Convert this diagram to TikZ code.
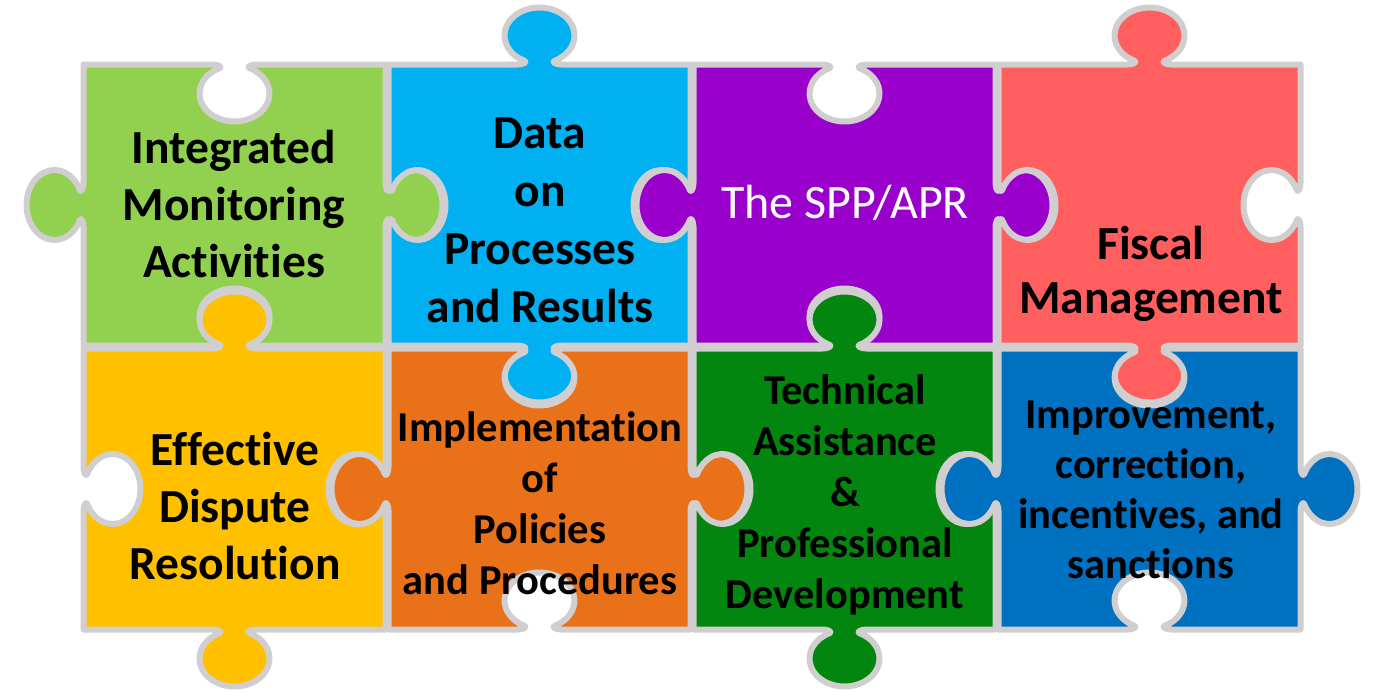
\documentclass[tikz,border=0pt]{standalone}
\usepackage{fontspec}
\setmainfont{Carlito}[Ligatures=CommonOff]

\definecolor{pzgreen}{HTML}{92D050}
\definecolor{pzblue}{HTML}{00B0F0}
\definecolor{pzpurple}{HTML}{9900CC}
\definecolor{pzred}{HTML}{FF5F5F}
\definecolor{pzyellow}{HTML}{FFC000}
\definecolor{pzorange}{HTML}{E97119}
\definecolor{pzdkgreen}{HTML}{03860F}
\definecolor{pzdkblue}{HTML}{0070C0}
\definecolor{pzborder}{HTML}{D0CECE}

% point on an edge: middle (#1,#2), heading #3, #4 along, #5 outwards
\newcommand{\edgept}[5]{({#1+(#4)*cos(#3)+(#5)*sin(#3)},{#2+(#4)*sin(#3)-(#5)*cos(#3)})}

% knob in the middle of an edge: #4 = 1 for a tab, -1 for a hole
\newcommand{\knob}[4]{%
  -- \edgept{#1}{#2}{#3}{-22}{0}
  .. controls \edgept{#1}{#2}{#3}{-16}{0} and \edgept{#1}{#2}{#3}{-12.2}{2.63*(#4)}
  .. \edgept{#1}{#2}{#3}{-15}{3.7*(#4)}
  arc[start angle={#3-244.6*(#4)}, end angle={#3+64.6*(#4)},
      x radius={35*abs(cos(#3))+28*abs(sin(#3))},
      y radius={28*abs(cos(#3))+35*abs(sin(#3))}]
  .. controls \edgept{#1}{#2}{#3}{12.2}{2.63*(#4)} and \edgept{#1}{#2}{#3}{16}{0}
  .. \edgept{#1}{#2}{#3}{22}{0}}

% one piece: top left corner (#1,#2), colour #3, knobs top, right, bottom, left
\newcommand{\piece}[7]{%
  \draw[pzpiece, fill=#3] (#1,#2)
    \knob{#1+151}{#2}{0}{#4} -- ({#1+302},{#2})
    \knob{#1+302}{#2+140.5}{90}{#5} -- ({#1+302},{#2+281})
    \knob{#1+151}{#2+281}{180}{#6} -- ({#1},{#2+281})
    \knob{#1}{#2+140.5}{270}{#7} -- cycle;}

\begin{document}
\begin{tikzpicture}[
        x=1pt, y=-1pt,
        % pieces and labels
        pzpiece/.style={draw=pzborder, line width=6pt, line join=round},
        biglbl/.style={font=\bfseries\fontsize{47.5}{57}\selectfont, align=center, inner sep=0pt},
        smalllbl/.style={font=\bfseries\fontsize{42.5}{51}\selectfont, align=center, inner sep=0pt}
    ]
    \useasboundingbox (0,0) rectangle (1375,691);

    % top row
    \piece{83.5}{64.5}{pzgreen}{-1}{1}{-1}{1}
    \piece{388.5}{64.5}{pzblue}{1}{-1}{1}{-1}
    \piece{693.5}{64.5}{pzpurple}{-1}{1}{-1}{1}
    \piece{998.5}{64.5}{pzred}{1}{-1}{1}{-1}
    % bottom row
    \piece{83.5}{348.5}{pzyellow}{1}{-1}{1}{-1}
    \piece{388.5}{348.5}{pzorange}{-1}{1}{-1}{1}
    \piece{693.5}{348.5}{pzdkgreen}{1}{-1}{1}{-1}
    \piece{998.5}{348.5}{pzdkblue}{-1}{1}{-1}{1}

    \node[biglbl] (monitor) at (234,204) {Integrated\\Monitoring\\Activities};
    \node[biglbl, font=\bfseries\fontsize{47.5}{58}\selectfont] (data) at (540,220) {Data\\on\\Processes\\and Results};
    \node[anchor=base, inner sep=0pt, text=white, font=\fontsize{48}{57}\selectfont] (spp) at (845,218) {The SPP/APR};
    \node[biglbl, font=\bfseries\fontsize{47.5}{54}\selectfont] (fiscal) at (1151,274) {Fiscal\\Management};
    \node[biglbl] (dispute) at (235,506) {Effective\\Dispute\\Resolution};
    \node[smalllbl] (policies) at (540,503) {Implementation\\of\\Policies\\and Procedures};
    \node[smalllbl] (techassist) at (845,495) {Technical\\Assistance\\\&\\Professional\\Development};
    \node[smalllbl, font=\bfseries\fontsize{42.5}{50}\selectfont] (improve) at (1151,490) {Improvement,\\correction,\\incentives, and\\sanctions};
\end{tikzpicture}
\end{document}
